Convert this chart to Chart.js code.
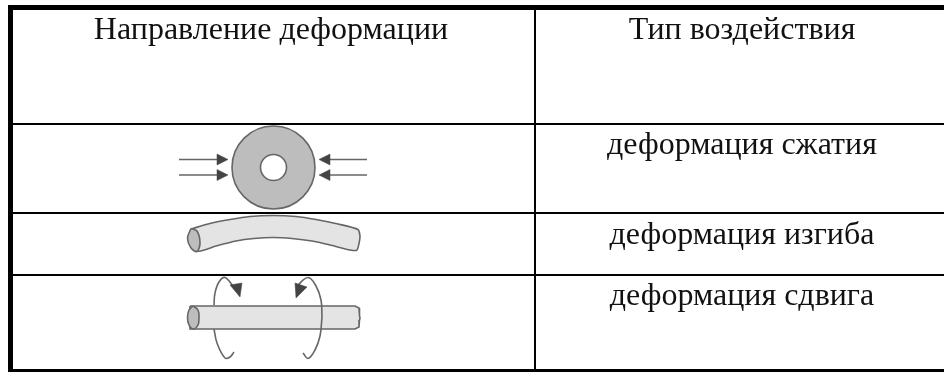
<!DOCTYPE html>
<html>
<head>
<meta charset="utf-8">
<script src="https://cdn.jsdelivr.net/npm/chart.js@4"></script>
<style>
  html, body { margin: 0; padding: 0; background: #fff; overflow: hidden; }
  canvas { display: block; }
</style>
</head>
<body>
<canvas id="chart" width="944" height="372"></canvas>
<script>
// ── Table text ───────────────────────────────────────────────────────────────
const cellTexts   = ['Направление деформации', 'Тип воздействия', 'деформация сжатия', 'деформация изгиба', 'деформация сдвига'];
const cellCenters = [271, 742, 742, 742, 742];
const cellBaselines = [39, 39, 154, 244, 305];

// ── Table rules (plot units = picture pixels, y grows downward) ──────────────
const topRule    = [[8, 7.5], [944, 7.5]];
const leftRule   = [[10.5, 5], [10.5, 372]];
const bottomRule = [[8, 370.5], [944, 370.5]];
const columnRule = [[535, 10], [535, 370]];
const rowRule1   = [[13, 124], [944, 124]];
const rowRule2   = [[13, 213], [944, 213]];
const rowRule3   = [[13, 275], [944, 275]];

// ── Compression sketch ───────────────────────────────────────────────────────
const discCenter = [[273.5, 167.5]];
const arrowLinesLeft  = [[[179, 159.5], [219, 159.5]], [[179, 175], [219, 175]]];
const arrowLinesRight = [[[367, 159.5], [328, 159.5]], [[367, 175], [328, 175]]];
const arrowHeadsLeft  = [[[217, 154], [228, 159.5], [217, 165]], [[217, 169.5], [228, 175], [217, 180.5]]];
const arrowHeadsRight = [[[330, 154], [319, 159.5], [330, 165]], [[330, 169.5], [319, 175], [330, 180.5]]];

// ── Bending sketch ───────────────────────────────────────────────────────────
const bentBody = [[191, 229], [210, 223.5], [230, 219.5], [250, 216.5], [273, 215.5], [296, 216.5], [316, 219.5], [338, 224], [358, 229.5],
                  [360, 237], [357, 250],
                  [350, 250], [330, 245], [312, 241], [292, 238.5], [273, 237.5], [254, 238.5], [236, 241], [216, 246], [198, 251]];
const bentEnd  = [[191, 228.5], [197, 231], [200, 243], [197, 251.5], [191, 248], [187.5, 238]];

// ── Shear sketch ─────────────────────────────────────────────────────────────
const straightBody = [[190, 306], [355, 306], [359, 308], [359.5, 316], [360, 318], [359.5, 320], [359, 327], [355, 329], [190, 329]];
const straightEnd  = [[193, 306], [198, 310], [199, 317.5], [198, 325], [193, 329], [189, 325], [187.5, 317.5], [189, 310]];
const twistLeftTop     = [[233, 286], [225, 277.5], [219, 282], [215, 293], [214, 305]];
const twistLeftBottom  = [[214, 329], [217, 343], [225, 358], [230, 357], [234, 352]];
const twistRightTop    = [[296, 287], [308, 277.5], [316, 286], [321, 300], [322, 317]];
const twistRightBottom = [[322, 317], [320, 336], [315, 350], [308, 358.5], [303, 353]];
const twistHeadLeft    = [[230, 285], [242, 283], [240, 297]];
const twistHeadRight   = [[295, 283], [307, 287], [296, 298]];

// ── Dataset helpers ──────────────────────────────────────────────────────────
const toPoints = (pairs) => pairs.map(([x, y]) => ({x, y}));

function rule(pairs, width) {
  return { data: toPoints(pairs), borderColor: '#000', borderWidth: width, pointRadius: 0, fill: false, sharp: true };
}
function stroke(pairs, tension = 0, width = 1.6, color = '#666') {
  return { data: toPoints(pairs), borderColor: color, borderWidth: width, pointRadius: 0, fill: false, tension };
}
function shape(pairs, color, tension = 0, edge = '#666', width = 1.6) {
  const closed = pairs.concat([pairs[0]]);
  return { data: toPoints(closed), backgroundColor: color, borderColor: edge, borderWidth: width, pointRadius: 0, fill: 'shape', tension };
}
function dot(pairs, radius, color, edge) {
  return { data: toPoints(pairs), showLine: false, pointRadius: radius, pointBackgroundColor: color, pointBorderColor: edge, pointBorderWidth: 1.6 };
}

// listed back to front; order is set below because Chart.js paints low order last
const datasets = [
  dot(discCenter, 41.5, '#bdbdbd', '#666'),
  dot(discCenter, 13, '#fff', '#666'),
  ...arrowLinesLeft.map((p) => stroke(p)),
  ...arrowLinesRight.map((p) => stroke(p)),
  ...arrowHeadsLeft.map((p) => shape(p, '#444', 0, '#444', 0.5)),
  ...arrowHeadsRight.map((p) => shape(p, '#444', 0, '#444', 0.5)),
  shape(bentBody, '#e4e4e4', 0.2),
  shape(bentEnd, '#bdbdbd', 0.35),
  stroke(twistLeftTop, 0.4),
  stroke(twistLeftBottom, 0.4),
  shape(straightBody, '#e4e4e4', 0),
  shape(straightEnd, '#bdbdbd', 0.35),
  stroke(twistRightTop, 0.4),
  stroke(twistRightBottom, 0.4),
  shape(twistHeadLeft, '#444', 0, '#444', 0.5),
  shape(twistHeadRight, '#444', 0, '#444', 0.5),
  rule(columnRule, 2),
  rule(rowRule1, 2),
  rule(rowRule2, 2),
  rule(rowRule3, 2),
  rule(topRule, 5),
  rule(leftRule, 5),
  rule(bottomRule, 3),
];
datasets.forEach((d, i) => { d.order = datasets.length - i; });

// ── Soft edges on the scanned sketches, rules stay crisp ─────────────────────
const softSketchPlugin = {
  id: 'softSketch',
  beforeDatasetsDraw(chart) { chart.ctx.filter = 'blur(0.7px)'; },
  beforeDatasetDraw(chart, args) {
    if (chart.data.datasets[args.index].sharp) chart.ctx.filter = 'none';
  },
};

// ── Cell text, placed through the scales ─────────────────────────────────────
const cellTextPlugin = {
  id: 'cellText',
  afterDatasetsDraw(chart) {
    const {ctx, scales: {x, y}} = chart;
    ctx.save();
    ctx.filter = 'blur(0.3px)';
    ctx.font = "32px 'Liberation Serif', serif";
    ctx.fillStyle = '#111';
    ctx.textAlign = 'center';
    ctx.textBaseline = 'alphabetic';
    cellTexts.forEach((t, i) => {
      ctx.fillText(t, x.getPixelForValue(cellCenters[i]), y.getPixelForValue(cellBaselines[i]));
    });
    ctx.restore();
  },
};

new Chart(document.getElementById('chart'), {
  type: 'line',
  data: { datasets },
  options: {
    animation: false,
    responsive: false,
    layout: { padding: 0, autoPadding: false },  // big disc point would otherwise inset the plot
    plugins: { legend: { display: false }, tooltip: { enabled: false } },
    scales: {
      x: { type: 'linear', min: 0, max: 944, display: false },
      y: { type: 'linear', min: 0, max: 372, reverse: true, display: false },
    },
  },
  plugins: [softSketchPlugin, cellTextPlugin],
});
</script>
</body>
</html>
